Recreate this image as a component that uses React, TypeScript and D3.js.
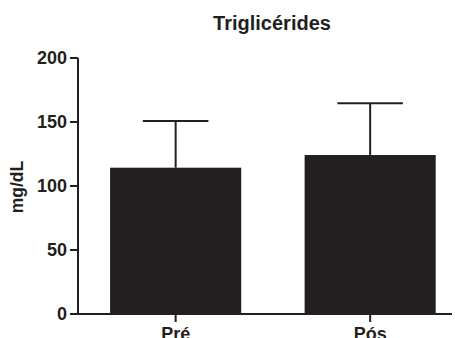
import * as d3 from "d3";

const categories = ["Pré", "Pós"];
const means = [114.3, 124.2];
const errTops = [150.8, 164.6];
const yTicks = [0, 50, 100, 150, 200];

const W = 455;
const H = 338;
const ink = "#231f20";
const font = "'Liberation Sans', Arial, sans-serif";

export default function App() {
  const y = d3.scaleLinear().domain([0, 200]).range([314, 58]);
  const x = d3
    .scaleBand()
    .domain(categories)
    .range([78, 467.8])
    .paddingInner(0.326)
    .paddingOuter(0.165);
  const bw = x.bandwidth();

  return (
    <svg
      width={W}
      height={H}
      style={{ position: "absolute", left: 0, top: 0, background: "#fff" }}
      fontFamily={font}
    >
      <text x={272} y={30} textAnchor="middle" fontSize={20} fontWeight="bold" fill={ink}>
        Triglicérides
      </text>
      <text
        transform={`translate(23,187) rotate(-90)`}
        textAnchor="middle"
        fontSize={17.5}
        fontWeight="bold"
        fill={ink}
      >
        mg/dL
      </text>

      {/* bars */}
      {categories.map((c, i) => {
        const cx = (x(c) as number) + bw / 2;
        return (
          <g key={c}>
            <line x1={cx} x2={cx} y1={y(means[i])} y2={y(errTops[i])} stroke={ink} strokeWidth={2} />
            <line
              x1={cx - bw / 4}
              x2={cx + bw / 4}
              y1={y(errTops[i])}
              y2={y(errTops[i])}
              stroke={ink}
              strokeWidth={2}
            />
            <rect x={x(c)} y={y(means[i])} width={bw} height={y(0) - y(means[i])} fill={ink} />
          </g>
        );
      })}

      {/* y axis */}
      <line x1={78} x2={78} y1={y(200)} y2={y(0)} stroke={ink} strokeWidth={2} />
      {yTicks.map((t) => (
        <g key={t}>
          <line x1={70} x2={78} y1={y(t)} y2={y(t)} stroke={ink} strokeWidth={2} />
          <text x={67} y={y(t)} dy="0.36em" textAnchor="end" fontSize={18} fontWeight="bold" fill={ink}>
            {t}
          </text>
        </g>
      ))}

      {/* x axis */}
      <line x1={70} x2={452} y1={y(0)} y2={y(0)} stroke={ink} strokeWidth={2} />
      {categories.map((c) => {
        const cx = (x(c) as number) + bw / 2;
        return (
          <g key={c}>
            <line x1={cx} x2={cx} y1={y(0)} y2={y(0) + 8} stroke={ink} strokeWidth={2} />
            <text x={cx} y={340} textAnchor="middle" fontSize={18} fontWeight="bold" fill={ink}>
              {c}
            </text>
          </g>
        );
      })}
    </svg>
  );
}
